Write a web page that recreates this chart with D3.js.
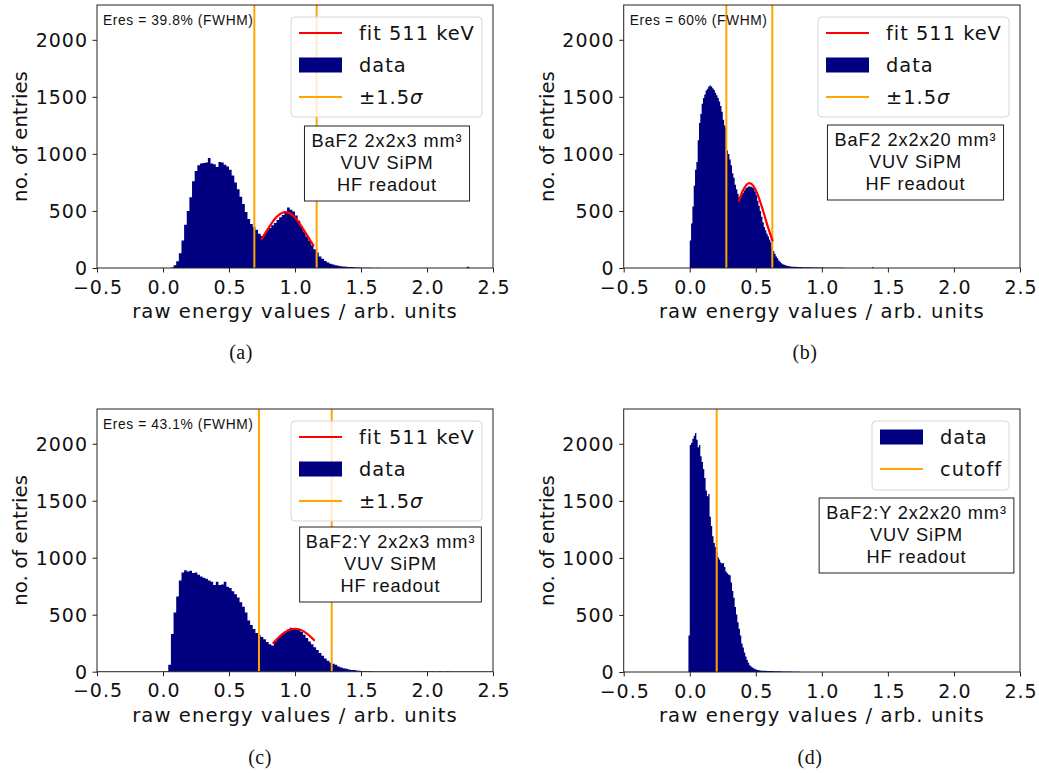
<!DOCTYPE html>
<html>
<head>
<meta charset="utf-8">
<script src="https://cdn.jsdelivr.net/npm/d3@7"></script>
<style>
  html, body { margin: 0; padding: 0; background: #fff; }
  svg { display: block; }
</style>
</head>
<body>
<svg id="fig" width="1039" height="773"></svg>
<script>
// ---- shared axis settings ----
const xDomain = [-0.5, 2.5];
const yMax = 2305;
const xTickValues = [-0.5, 0, 0.5, 1.0, 1.5, 2.0, 2.5];
const xTickLabels = ["\u22120.5", "0.0", "0.5", "1.0", "1.5", "2.0", "2.5"];
const yTickValues = [0, 500, 1000, 1500, 2000];
const xAxisTitle = "raw energy values / arb. units";
const yAxisTitle = "no. of entries";

// ---- (a) BaF2 2x2x3 mm3 ----
const binStartA = 0.06, binWidthA = 0.02;
const countsA = [5,25,60,130,240,380,500,620,760,850,900,915,920,925,965,915,910,885,930,925,
  905,890,860,810,750,690,625,560,490,430,385,360,335,300,280,295,330,350,375,395,
  420,445,465,485,530,510,495,460,415,365,320,275,240,200,165,135,100,80,62,48,
  38,30,25,20,16,13,11,9,8,6,5,4,3,3,2,2];
const tailA = [[1.62, 2], [1.70, 1], [1.80, 1], [2.30, 10]];
const fitA = [[0.748,255],[0.78,315],[0.82,387],[0.86,447],[0.90,482],[0.93,490],[0.96,480],
  [1.00,442],[1.04,381],[1.08,308],[1.12,233],[1.14,198]];
const cutsA = [0.692, 1.164];
const eresA = "Eres = 39.8% (FWHM)";
const boxA = ["BaF2 2x2x3 mm\u00B3", "VUV SiPM", "HF readout"];

// ---- (b) BaF2 2x2x20 mm3 ----
const binStartB = 0.0, binWidthB = 0.01;
const countsB = [240,390,540,720,860,930,1120,1270,1350,1440,
  1490,1520,1555,1570,1590,1600,1590,1575,1560,1535,
  1515,1490,1460,1420,1370,1300,1250,1230,1030,1000,
  950,900,830,790,730,690,650,615,625,645,
  660,680,700,705,715,715,713,705,700,670,
  640,590,545,500,450,400,360,330,300,275,
  250,225,180,150,125,100,85,65,55,42,
  33,28,24,20,17,15,13,12,11,10,
  10,9,9,8,8,7,7,7,6,6,6,6,5,5,5,5,5,4,4,4,
  4,4,3,3,3,3,3,3,2,2,2,2,2,2,2,2,2,1,1,1];
const tailB = [[1.38, 8]];
const fitB = [[0.373,589],[0.40,672],[0.43,730],[0.452,743],[0.48,722],[0.51,656],
  [0.54,557],[0.57,443],[0.60,329],[0.626,241]];
const cutsB = [0.277, 0.625];
const eresB = "Eres = 60% (FWHM)";
const boxB = ["BaF2 2x2x20 mm\u00B3", "VUV SiPM", "HF readout"];

// ---- (c) BaF2:Y 2x2x3 mm3 ----
const binStartC = 0.02, binWidthC = 0.02;
const countsC = [5,60,330,520,660,800,870,890,880,885,865,870,850,835,825,815,800,790,760,790,
  760,765,790,745,735,705,680,650,610,570,520,450,410,375,340,320,305,285,260,240,
  230,265,295,315,340,355,370,385,380,375,365,350,325,295,265,240,215,190,165,140,
  115,95,80,70,60,45,36,30,25,20,16,14,11,9,7,6,5,3];
const tailC = [[1.97, 3], [2.03, 4], [2.09, 3], [2.15, 3]];
const fitC = [[0.836,253],[0.88,305],[0.92,343],[0.96,368],[1.00,377],[1.04,368],
  [1.08,343],[1.12,305],[1.144,277]];
const cutsC = [0.727, 1.278];
const eresC = "Eres = 43.1% (FWHM)";
const boxC = ["BaF2:Y 2x2x3 mm\u00B3", "VUV SiPM", "HF readout"];

// ---- (d) BaF2:Y 2x2x20 mm3 ----
const binStartD = -0.01, binWidthD = 0.01;
const countsD = [320,1990,2010,2045,2070,2095,2035,1970,1990,1890,
  1840,1780,1700,1590,1540,1560,1360,1280,1190,1130,
  1096,1050,1005,985,960,950,955,920,880,865,
  855,848,785,710,650,570,505,435,380,320,
  250,215,170,135,105,80,60,48,40,32,
  25,21,18,15,13,12,11,10,10,9,
  9,8,8,8,7,7,7,6,6,6,5,5,5,5,4,4,4,4,3,3,3,3,2,2,2];
const tailD = [];
const cutsD = [0.204];
const boxD = ["BaF2:Y 2x2x20 mm\u00B3", "VUV SiPM", "HF readout"];

const captions = ["(a)", "(b)", "(c)", "(d)"];

// ---- colours and type ----
const NAVY = "#000080", RED = "#ff0000", ORANGE = "#ffa500", INK = "#111";
const SANS = "'DejaVu Sans', sans-serif";
const BOX_FONT = "'Liberation Sans', Arial, sans-serif";
const SERIF = "'Liberation Serif', 'Times New Roman', serif";

function toBins(start, width, counts, tail) {
  const bins = counts.map((n, i) => ({ x0: start + i * width, x1: start + (i + 1) * width, n }));
  tail.forEach(([x, n]) => bins.push({ x0: x, x1: x + width, n }));
  return bins;
}

function label(parent, x, y, str, size, family, anchor, spacing) {
  return parent.append("text")
    .attr("x", x).attr("y", y)
    .attr("text-anchor", anchor || "start").attr("fill", INK)
    .style("font-family", family).style("font-size", size + "px")
    .style("letter-spacing", (spacing || 0) + "px")
    .text(str);
}

const panels = [
  { frame: { left: 97, right: 493, top: 5, bottom: 268 },
    bins: toBins(binStartA, binWidthA, countsA, tailA), fit: fitA, cuts: cutsA, eres: eresA,
    box: boxA, boxCenterOff: 106, boxTopOff: 121, boxPad: 7,
    legend: [["line", RED, "fit 511 keV"], ["patch", NAVY, "data"], ["line", ORANGE, "\u00B11.5", "\u03C3"]],
    caption: captions[0], capX: 241, capY: 352 },
  { frame: { left: 623.7, right: 1020, top: 5, bottom: 268 },
    bins: toBins(binStartB, binWidthB, countsB, tailB), fit: fitB, cuts: cutsB, eres: eresB,
    box: boxB, boxCenterOff: 104.5, boxTopOff: 120, boxPad: 7,
    legend: [["line", RED, "fit 511 keV"], ["patch", NAVY, "data"], ["line", ORANGE, "\u00B11.5", "\u03C3"]],
    caption: captions[1], capX: 805, capY: 352 },
  { frame: { left: 97, right: 493, top: 409, bottom: 671.7 },
    bins: toBins(binStartC, binWidthC, countsC, tailC), fit: fitC, cuts: cutsC, eres: eresC,
    box: boxC, boxCenterOff: 102.5, boxTopOff: 118, boxPad: 6,
    legend: [["line", RED, "fit 511 keV"], ["patch", NAVY, "data"], ["line", ORANGE, "\u00B11.5", "\u03C3"]],
    caption: captions[2], capX: 260, capY: 757 },
  { frame: { left: 623.7, right: 1020, top: 409, bottom: 672 },
    bins: toBins(binStartD, binWidthD, countsD, tailD), fit: null, cuts: cutsD, eres: null,
    box: boxD, boxCenterOff: 103.5, boxTopOff: 89, boxPad: 7,
    legend: [["patch", NAVY, "data"], ["line", ORANGE, "cutoff"]],
    caption: captions[3], capX: 810, capY: 757 }
];

const svg = d3.select("#fig");

panels.forEach((p, pi) => {
  const f = p.frame;
  const x = d3.scaleLinear().domain(xDomain).range([f.left, f.right]);
  const y = d3.scaleLinear().domain([0, yMax]).range([f.bottom, f.top]);
  const g = svg.append("g");
  const clipId = "clip" + pi;
  g.append("clipPath").attr("id", clipId).append("rect")
    .attr("x", f.left).attr("y", f.top).attr("width", f.right - f.left).attr("height", f.bottom - f.top);
  const plot = g.append("g").attr("clip-path", `url(#${clipId})`);

  // histogram: every bin is one sub-rectangle of a single path (no seams between bins)
  const hist = d3.path();
  p.bins.forEach(d => {
    hist.rect(x(d.x0), y(d.n), x(d.x1) - x(d.x0), y(0) - y(d.n));
  });
  plot.append("path").attr("d", hist.toString()).attr("fill", NAVY);

  // cut lines
  plot.append("g").selectAll("line").data(p.cuts).join("line")
    .attr("x1", d => x(d)).attr("x2", d => x(d))
    .attr("y1", f.top).attr("y2", f.bottom)
    .attr("stroke", ORANGE).attr("stroke-width", 2);

  // fit curve
  if (p.fit) {
    const line = d3.line().x(d => x(d[0])).y(d => y(d[1])).curve(d3.curveMonotoneX);
    plot.append("path").datum(p.fit).attr("d", line)
      .attr("fill", "none").attr("stroke", RED).attr("stroke-width", 2.2)
      .attr("stroke-linecap", "round");
  }

  // axes
  const xAxis = d3.axisBottom(x).tickValues(xTickValues)
    .tickFormat((d, i) => xTickLabels[i]).tickSize(4.5);
  const yAxis = d3.axisLeft(y).tickValues(yTickValues).tickFormat(d3.format("d")).tickSize(4.5);
  const gx = g.append("g").attr("transform", `translate(0,${f.bottom})`).call(xAxis);
  const gy = g.append("g").attr("transform", `translate(${f.left},0)`).call(yAxis);
  [gx, gy].forEach(ax => {
    ax.select(".domain").remove();
    ax.selectAll(".tick line").attr("stroke", "#222").attr("stroke-width", 1);
    ax.selectAll(".tick text").attr("fill", INK)
      .style("font-family", SANS).style("font-size", "19px").style("letter-spacing", "1px");
  });
  gx.selectAll(".tick text").attr("y", 18.7).attr("dy", "0.36em").attr("dx", "0.5px");
  gy.selectAll(".tick text").attr("x", -9).attr("dy", "0.34em");

  // frame
  g.append("rect").attr("x", f.left).attr("y", f.top)
    .attr("width", f.right - f.left).attr("height", f.bottom - f.top)
    .attr("fill", "none").attr("stroke", "#222").attr("stroke-width", 1);

  // axis titles
  label(g, (f.left + f.right) / 2, f.bottom + 50, xAxisTitle, 19.6, SANS, "middle", 1.1);
  g.append("text")
    .attr("transform", `translate(${f.left - 70},${(f.top + f.bottom) / 2}) rotate(-90)`)
    .attr("text-anchor", "middle").attr("fill", INK)
    .style("font-family", SANS).style("font-size", "19.8px").text(yAxisTitle);

  // resolution label
  if (p.eres) label(g, f.left + 6, f.top + 20, p.eres, 13.8, BOX_FONT, "start", 0.6);

  // legend
  const lgW = p.legend.length === 3 ? 191 : 137;
  const lgH = p.legend.length === 3 ? 100 : 69;
  const lgX = f.right - 11 - lgW, lgY = f.top + 12;
  const lg = g.append("g");
  lg.append("rect").attr("x", lgX).attr("y", lgY).attr("width", lgW).attr("height", lgH)
    .attr("rx", 4).attr("fill", "#fff").attr("fill-opacity", 0.8)
    .attr("stroke", "#d6d6d6").attr("stroke-width", 1);
  p.legend.forEach((e, i) => {
    const cy = lgY + 16 + i * 32;
    if (e[0] === "line") {
      lg.append("line").attr("x1", lgX + 8).attr("x2", lgX + 51).attr("y1", cy).attr("y2", cy)
        .attr("stroke", e[1]).attr("stroke-width", 2.2);
    } else {
      lg.append("rect").attr("x", lgX + 8).attr("y", cy - 7.5).attr("width", 43).attr("height", 15)
        .attr("fill", e[1]);
    }
    const t = label(lg, lgX + 68, cy + 7, "", 19.4, SANS, "start", 1);
    t.append("tspan").text(e[2]);
    if (e[3]) t.append("tspan").style("font-style", "italic").text(e[3]);
  });

  // description box
  const bx = g.append("g");
  const cx = f.right - p.boxCenterOff, by = f.top + p.boxTopOff;
  const frameRect = bx.append("rect");
  const texts = p.box.map((s, i) => label(bx, cx, by + 20.5 + i * 22, s, 18.2, BOX_FONT, "middle", 0.9));
  const wMax = d3.max(texts, t => t.node().getBBox().width);
  const bw = wMax + 2 * p.boxPad;
  frameRect.attr("x", cx - bw / 2).attr("y", by).attr("width", bw).attr("height", 75)
    .attr("fill", "#fff").attr("stroke", "#222").attr("stroke-width", 1);

  // caption
  label(svg, p.capX, p.capY + 7, p.caption, 20, SERIF, "middle", 0.5);
});
</script>
</body>
</html>
